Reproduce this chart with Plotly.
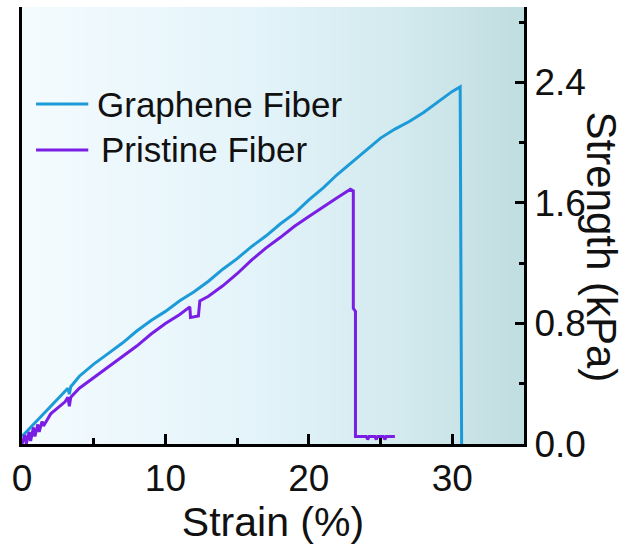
import numpy as np
import plotly.graph_objects as go

# ---- data ----
graphene_strain = [0, 0.5, 1, 2, 3, 3.2, 3.3, 3.4, 4, 5, 6, 7, 8, 9, 10, 11, 12, 13, 14, 15, 16, 17, 18,
                   19, 20, 21, 22, 23, 24, 25, 26, 27, 28, 29, 30, 30.55, 30.6, 30.65]
graphene_strength = [0.05, 0.10, 0.15, 0.25, 0.35, 0.37, 0.33, 0.38, 0.45, 0.53, 0.60, 0.67, 0.75, 0.82,
                     0.88, 0.95, 1.01, 1.08, 1.16, 1.23, 1.31, 1.38, 1.46, 1.53, 1.62, 1.70, 1.79, 1.87,
                     1.95, 2.03, 2.09, 2.14, 2.20, 2.27, 2.34, 2.37, 0.40, 0.0]

pristine_strain = [0, 0.2, 0.3, 0.5, 0.6, 0.8, 0.9, 1.1, 1.2, 1.4, 1.5, 2, 3, 3.2, 3.3, 3.4, 4, 5, 6, 7, 8,
                   9, 10, 11, 11.7, 11.75, 12.3, 12.4, 13, 14, 15, 16, 17, 18, 19, 20, 21, 22, 22.9, 23.1,
                   23.1, 23.25, 23.25, 24.0, 24.1, 24.2, 24.6, 24.7, 24.8, 25.2, 25.3, 25.4, 26.0]
pristine_strength = [0.0, 0.06, 0.0, 0.08, 0.02, 0.11, 0.05, 0.13, 0.08, 0.15, 0.12, 0.20, 0.28, 0.31, 0.25,
                     0.31, 0.37, 0.44, 0.51, 0.58, 0.65, 0.73, 0.80, 0.86, 0.91, 0.84, 0.85, 0.95, 0.98,
                     1.05, 1.13, 1.22, 1.30, 1.37, 1.445, 1.51, 1.575, 1.635, 1.69, 1.68, 0.90, 0.88, 0.05,
                     0.05, 0.03, 0.05, 0.05, 0.03, 0.05, 0.05, 0.03, 0.05, 0.05]

x_tickvals = [0, 10, 20, 30]
y_tickvals = [0.0, 0.8, 1.6, 2.4]
y_ticktext = ["0.0", "0.8", "1.6", "2.4"]

series_names = ["Graphene Fiber", "Pristine Fiber"]
series_colors = ["#1c9bd8", "#7a1ee6"]

X_RANGE = [0, 35]
Y_RANGE = [0, 2.9]

FONT = "Arial, Liberation Sans, sans-serif"

fig = go.Figure()

# gradient background
gx = np.linspace(X_RANGE[0], X_RANGE[1], 120)
fig.add_trace(go.Heatmap(
    x=gx, y=[Y_RANGE[0] - 0.2, Y_RANGE[1] + 0.2], z=[gx, gx],
    colorscale=[[0, "#f4fbfe"], [0.45, "#e4f4fa"], [0.75, "#d3eaee"], [1, "#c0dde0"]],
    showscale=False, hoverinfo="skip", zsmooth="best",
))

fig.add_trace(go.Scatter(x=graphene_strain, y=graphene_strength, mode="lines",
                         name=series_names[0], line=dict(color=series_colors[0], width=3),
                         showlegend=False))
fig.add_trace(go.Scatter(x=pristine_strain, y=pristine_strength, mode="lines",
                         name=series_names[1], line=dict(color=series_colors[1], width=3),
                         showlegend=False))

# manual legend
legend_y = [0.778, 0.673]
for i, (nm, col) in enumerate(zip(series_names, series_colors)):
    fig.add_shape(type="line", xref="paper", yref="paper",
                  x0=0.028, x1=0.132, y0=legend_y[i], y1=legend_y[i],
                  line=dict(color=col, width=3))
    fig.add_annotation(xref="paper", yref="paper", x=0.145 + (0.008 if i == 1 else 0), y=legend_y[i],
                       text=nm, showarrow=False, xanchor="left", yanchor="middle",
                       font=dict(family=FONT, size=35, color="#111111"))

# right axis title reading top-to-bottom
fig.add_annotation(xref="paper", yref="paper", x=1.155, y=0.45, text="Strength (kPa)",
                   textangle=90, showarrow=False, xanchor="center", yanchor="middle",
                   font=dict(family=FONT, size=42, color="#111111"))

fig.update_layout(
    width=633, height=550,
    margin=dict(l=22, r=109, t=7, b=106),
    paper_bgcolor="white", plot_bgcolor="white",
    showlegend=False,
    font=dict(family=FONT, color="#111111"),
    xaxis=dict(range=X_RANGE, tickvals=x_tickvals, showgrid=False, zeroline=False,
               showline=True, linecolor="black", linewidth=3, mirror=False,
               ticks="inside", ticklen=10, tickwidth=2.5, tickcolor="black",
               minor=dict(dtick=5, tick0=0, ticks="inside", ticklen=6, tickwidth=2.5, tickcolor="black"),
               tickfont=dict(size=37, family=FONT, color="#111111"),
               title=dict(text="Strain (%)", font=dict(size=41, family=FONT, color="#111111"), standoff=0)),
    yaxis=dict(range=Y_RANGE, side="right", tickvals=y_tickvals, ticktext=y_ticktext,
               showgrid=False, zeroline=False,
               showline=True, linecolor="black", linewidth=3, mirror=True,
               ticks="inside", ticklen=9, tickwidth=2.5, tickcolor="black",
               minor=dict(dtick=0.4, tick0=0, ticks="inside", ticklen=5, tickwidth=2.5, tickcolor="black"),
               tickfont=dict(size=37, family=FONT, color="#111111")),
)

fig.write_html("out.html")
